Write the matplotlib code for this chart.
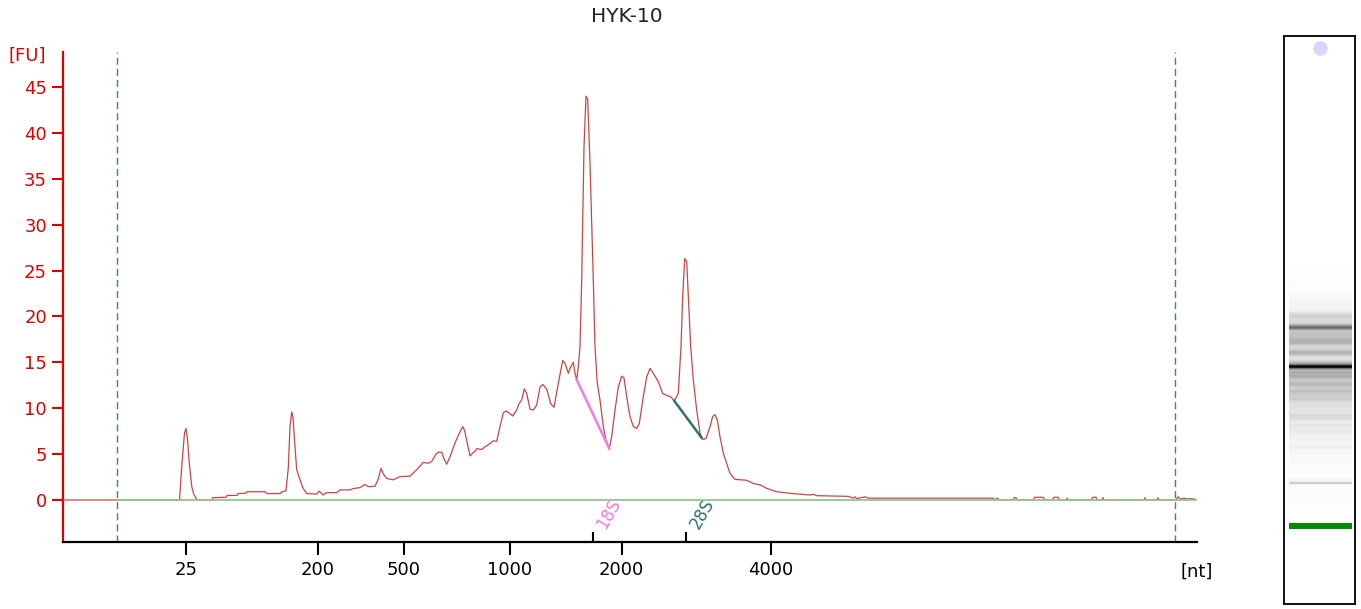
import numpy as np
import matplotlib
matplotlib.use('Agg')
import matplotlib.pyplot as plt

# electropherogram trace, time in axis units, signal in FU
time = [63, 179.5, 182, 184.5, 186, 187.5, 189.3, 191.7, 193.5, 197, 212, 212.5, 226, 227, 237, 238,
        246, 247, 265, 267, 280, 282, 286, 288.3, 290, 291.7, 293, 295, 296.7, 300, 303, 306.7,
        316.7, 319, 321, 323, 326.7, 336.7, 340, 350, 353.3, 360, 365, 368.3, 375, 378, 381, 383.5,
        386.7, 393.3, 400, 410, 416.7, 423.3, 428.3, 431.7, 436, 438.3, 441.7, 444, 446.7, 450, 455,
        459, 462.7, 464.5, 466.7, 470, 472.5, 475, 476.7, 481.7, 485, 488, 493.3, 496.7, 500, 503.3,
        506, 509, 512.7, 516.7, 519, 521.7, 524.3, 526.7, 530, 533.3, 536.7, 540, 542.7, 546.7,
        550.7, 554, 558.3, 562.7, 565, 568.3, 570.7, 573.3, 575, 576.7, 578.3, 580, 581.7, 584, 586,
        587.7, 590, 593.3, 595, 597.3, 600, 603.3, 606, 609.3, 611.7, 615, 618.3, 621.7, 624, 626.7,
        630, 633.3, 636.7, 639.3, 643.3, 646.7, 650, 653.3, 658.3, 662.7, 666.7, 670.7, 674.3, 678.3,
        681, 682.7, 684.7, 686.7, 688.3, 690.7, 693.3, 696.7, 700, 702.7, 706, 710, 712.7, 715, 717.3,
        720, 723.3, 726.7, 730, 735, 746.7, 753.3, 760, 766.7, 776.7, 790, 810, 813.3, 816.7, 848.3,
        853.3, 855, 856.7, 865, 868.3, 993, 995, 997, 1000, 1013, 1014, 1016, 1017, 1033, 1035, 1043,
        1045, 1052, 1054, 1058, 1060, 1066, 1067, 1068, 1091, 1093, 1096, 1097, 1102, 1103, 1104,
        1144, 1145, 1146, 1157, 1158, 1159, 1176, 1178, 1181, 1184, 1187, 1190, 1195]
fu = [0, 0, 4.0, 7.3, 7.8, 6.6, 4.0, 1.5, 0.7, 0, 0, 0.25, 0.3, 0.5, 0.5, 0.7,
      0.75, 0.9, 0.9, 0.7, 0.7, 0.9, 1.0, 3.5, 8.0, 9.6, 9.0, 5.8, 3.3, 2.2, 1.3, 0.7,
      0.65, 0.95, 0.8, 0.55, 0.8, 0.8, 1.1, 1.1, 1.25, 1.35, 1.7, 1.45, 1.5, 2.2, 3.45, 2.8,
      2.35, 2.2, 2.55, 2.6, 3.3, 4.1, 4.0, 4.2, 5.0, 5.2, 5.2, 4.5, 3.9, 4.7, 6.2,
      7.2, 8.0, 7.6, 6.5, 4.8, 5.1, 5.3, 5.6, 5.5, 5.8, 6.0, 6.45, 6.4, 8.0, 9.5,
      9.7, 9.5, 9.15, 9.8, 10.5, 10.9, 12.1, 11.6, 9.9, 9.8, 10.35, 12.3, 12.6, 12.1,
      10.5, 10.1, 12.7, 15.2, 14.9, 13.8, 14.5, 15.0, 13.8, 13.1, 14.5, 16.7, 24.0, 38.5, 44.0,
      43.6, 36.7, 24.0, 16.7, 12.7, 10.9, 8.0, 6.5, 5.6, 6.9, 9.8, 12.3, 13.5, 13.3, 11.25,
      9.1, 8.0, 7.8, 8.35, 11.25, 13.4, 14.35, 13.8, 12.9, 11.6, 11.4, 11.25, 10.8, 11.6,
      16.7, 22.2, 26.3, 26.0, 22.2, 16.7, 13.1, 9.8, 7.3, 6.6, 6.7, 8.0, 9.1, 9.3, 8.7,
      6.9, 5.1, 4.0, 2.9, 2.25, 2.15, 1.8, 1.65, 1.27, 0.9, 0.73, 0.54, 0.62, 0.47, 0.4,
      0.2, 0.35, 0.15, 0.35, 0.2, 0.2, 0, 0.2, 0, 0, 0.25, 0.25, 0, 0, 0.3, 0.3,
      0, 0, 0.3, 0.3, 0, 0, 0.2, 0, 0, 0.3, 0.3, 0, 0, 0.25, 0,
      0, 0.25, 0, 0, 0.25, 0, 0, 0.35, 0.1, 0.2, 0.1, 0.15, 0.1]

# ladder ticks
ladder_pos = [186, 318, 404, 509.5, 621.5, 770.5]
ladder_nt = ['25', '200', '500', '1000', '2000', '4000']

# ribosomal peak markers
rrna_names = ['18S', '28S']
rrna_pos = [593, 686]
rrna_colors = ['#f27ae6', '#2f7468']
rrna_base_t = [[576.7, 609.3], [674.3, 701.5]]
rrna_base_fu = [[13.1, 5.6], [10.8, 6.8]]

window = [117, 1175]
marker_t = 184
sample = 'HYK-10'


def main():
    fig = plt.figure(figsize=(13.61, 6.09), dpi=100)
    ax = fig.add_axes([63 / 1361, 67.5 / 609, 1134 / 1361, 489.5 / 609])

    ax.plot(time, fu, color='#cc4444', lw=0.9, zorder=3)
    ax.plot([window[0], 1197], [0, 0], color='#93c493', lw=1.3, zorder=4)
    for w in window:
        ax.axvline(w, color='#2f9a2f', lw=1.0, ls=(0, (5, 3)), zorder=2)

    for i in range(2):
        ax.plot(rrna_base_t[i], rrna_base_fu[i], color=rrna_colors[i], lw=1.8, zorder=5)
        ax.text(rrna_pos[i] + 16, -1.5, rrna_names[i], color=rrna_colors[i], fontsize=12,
                rotation=60, ha='center', va='center')

    ax.set_xlim(63, 1197)
    ax.set_ylim(-4.52, 48.81)
    ax.set_yticks(range(0, 50, 5))
    ax.set_xticks(ladder_pos)
    ax.set_xticklabels(ladder_nt)
    ax.set_xticks(rrna_pos, minor=True)

    for s in ['top', 'right']:
        ax.spines[s].set_visible(False)
    ax.spines['left'].set_color('#e00000')
    ax.spines['left'].set_linewidth(1.6)
    ax.spines['bottom'].set_linewidth(1.6)
    ax.tick_params(axis='y', colors='#e00000', labelsize=13, length=8, width=1.5, pad=3.5)
    ax.tick_params(axis='x', which='major', labelsize=13, length=9, width=1.5, pad=5)
    ax.tick_params(axis='x', which='minor', direction='in', length=7.5, width=1.5)

    ax.text(1.0, -0.062, '[nt]', transform=ax.transAxes, fontsize=13, ha='center', va='center')
    fig.text(27 / 1361, 1 - 56 / 609, '[FU]', color='#e00000', fontsize=13, ha='center', va='center')
    fig.text(627 / 1361, 1 - 17 / 609, sample, fontsize=14.5, ha='center', va='center', color='#222222')

    # gel-like lane on the right, darkness follows the trace
    gax = fig.add_axes([1284 / 1361, 5 / 609, 71 / 1361, 568 / 609])
    t = np.array(time)
    s = np.array(fu)
    edges = np.concatenate([[t[0]], (t[1:] + t[:-1]) / 2, [t[-1]]])
    dark = np.clip((s - 0.35) / 44, 0, 1) ** 0.75
    gax.pcolormesh([0.07, 0.96], edges, dark[:, None], cmap='Greys', vmin=0, vmax=1, shading='flat')
    gax.fill_between([0.07, 0.96], marker_t - 7.5, marker_t + 7.5, color='#078a07', lw=0)
    gax.scatter([0.5], [1393], s=110, color='#d6d6ff', marker='o', lw=0)
    gax.set_xlim(0, 1)
    gax.set_ylim(-14, 1424)
    gax.set_xticks([])
    gax.set_yticks([])
    for sp in gax.spines.values():
        sp.set_linewidth(1.3)

    fig.savefig('out.png', dpi=100)


if __name__ == '__main__':
    main()
